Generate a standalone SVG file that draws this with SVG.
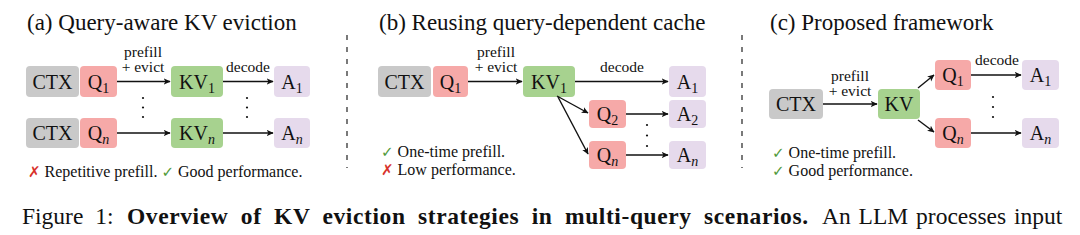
<svg xmlns="http://www.w3.org/2000/svg" width="1080" height="235" viewBox="0 0 1080 235" font-family="'Liberation Serif', 'DejaVu Serif', serif">
<style>
  text { font-family: 'Liberation Serif', 'DejaVu Serif', serif; fill: #111; }
  .title { font-size: 23px; }
  .lbl { font-size: 20px; text-anchor: middle; }
  .sub { font-size: 14px; }
  .it { font-style: italic; }
  .edge { font-size: 15.5px; text-anchor: middle; }
  .note { font-size: 16px; }
  .ok { font-family: 'DejaVu Sans', sans-serif; fill: #4f9a3a; font-size: 15px; }
  .bad { font-family: 'DejaVu Sans', sans-serif; fill: #d8322a; font-size: 15px; }
  .ctx { fill: #c9c9c9; }
  .q { fill: #f6a9a8; }
  .kv { fill: #a7d28f; }
  .a { fill: #e6daec; }
  .conn line { stroke: #111; stroke-width: 1.4; marker-end: url(#ah); }
  .sep { stroke: #222; stroke-width: 1.2; stroke-dasharray: 5 7; }
  .dot { fill: #111; }
  .cap { font-size: 23.5px; }
  .capb { font-size: 23.5px; font-weight: bold; }
</style>
<defs>
  <marker id="ah" viewBox="0 0 10 10" refX="9" refY="5" markerWidth="7" markerHeight="7" markerUnits="userSpaceOnUse" orient="auto">
    <path d="M0,0.5 L10,5 L0,9.5 L2.5,5 Z" fill="#111"/>
  </marker>
</defs>

<!-- Titles -->
<text class="title" x="27" y="30">(a) Query-aware KV eviction</text>
<text class="title" x="379" y="30">(b) Reusing query-dependent cache</text>
<text class="title" x="770" y="30">(c) Proposed framework</text>

<!-- separators -->
<line class="sep" x1="347" y1="35" x2="347" y2="168"/>
<line class="sep" x1="742" y1="35" x2="742" y2="168"/>

<!-- Panel (a) -->
<g id="a-ctx1"><rect class="ctx" x="26" y="66" width="53" height="31" rx="4"/><text class="lbl" x="52.5" y="89">CTX</text></g>
<g id="a-q1"><rect class="q" x="80" y="66" width="37" height="31" rx="4"/><text class="lbl" x="98.5" y="89">Q<tspan class="sub" dy="4">1</tspan></text></g>
<g id="a-kv1"><rect class="kv" x="171" y="66" width="52" height="31" rx="4"/><text class="lbl" x="197" y="89">KV<tspan class="sub" dy="4">1</tspan></text></g>
<g id="a-a1"><rect class="a" x="274" y="66" width="36" height="31" rx="4"/><text class="lbl" x="292" y="89">A<tspan class="sub" dy="4">1</tspan></text></g>
<g id="a-ctxn"><rect class="ctx" x="26" y="118" width="53" height="30" rx="4"/><text class="lbl" x="52.5" y="140">CTX</text></g>
<g id="a-qn"><rect class="q" x="80" y="118" width="37" height="30" rx="4"/><text class="lbl" x="98.5" y="140">Q<tspan class="sub it" dy="4">n</tspan></text></g>
<g id="a-kvn"><rect class="kv" x="171" y="118" width="52" height="30" rx="4"/><text class="lbl" x="197" y="140">KV<tspan class="sub it" dy="4">n</tspan></text></g>
<g id="a-an"><rect class="a" x="274" y="118" width="36" height="30" rx="4"/><text class="lbl" x="292" y="140">A<tspan class="sub it" dy="4">n</tspan></text></g>
<text class="edge" x="143" y="57">prefill</text>
<text class="edge" x="143" y="72">+ evict</text>
<text class="edge" x="248" y="72">decode</text>
<circle class="dot" cx="143" cy="98" r="1.1"/><circle class="dot" cx="143" cy="107.5" r="1.1"/><circle class="dot" cx="143" cy="117" r="1.1"/>
<circle class="dot" cx="247" cy="98" r="1.1"/><circle class="dot" cx="247" cy="107.5" r="1.1"/><circle class="dot" cx="247" cy="117" r="1.1"/>
<text class="note" x="28" y="177"><tspan class="bad">✗</tspan> Repetitive prefill. <tspan class="ok">✓</tspan> Good performance.</text>

<!-- Panel (b) -->
<g id="b-ctx"><rect class="ctx" x="378" y="66" width="53" height="31" rx="4"/><text class="lbl" x="404.5" y="89">CTX</text></g>
<g id="b-q1"><rect class="q" x="433" y="66" width="35" height="31" rx="4"/><text class="lbl" x="450.5" y="89">Q<tspan class="sub" dy="4">1</tspan></text></g>
<g id="b-kv1"><rect class="kv" x="523" y="66" width="52" height="31" rx="4"/><text class="lbl" x="549" y="89">KV<tspan class="sub" dy="4">1</tspan></text></g>
<g id="b-a1"><rect class="a" x="669" y="66" width="37" height="31" rx="4"/><text class="lbl" x="687.5" y="89">A<tspan class="sub" dy="4">1</tspan></text></g>
<g id="b-q2"><rect class="q" x="589" y="100" width="37" height="28" rx="4"/><text class="lbl" x="607.5" y="121">Q<tspan class="sub" dy="4">2</tspan></text></g>
<g id="b-a2"><rect class="a" x="669" y="100" width="37" height="28" rx="4"/><text class="lbl" x="687.5" y="121">A<tspan class="sub" dy="4">2</tspan></text></g>
<g id="b-qn"><rect class="q" x="589" y="141" width="37" height="28" rx="4"/><text class="lbl" x="607.5" y="162">Q<tspan class="sub it" dy="4">n</tspan></text></g>
<g id="b-an"><rect class="a" x="669" y="141" width="37" height="28" rx="4"/><text class="lbl" x="687.5" y="162">A<tspan class="sub it" dy="4">n</tspan></text></g>
<text class="edge" x="496" y="57">prefill</text>
<text class="edge" x="496" y="72">+ evict</text>
<text class="edge" x="622" y="72">decode</text>
<circle class="dot" cx="647" cy="125" r="1.1"/><circle class="dot" cx="647" cy="135.5" r="1.1"/><circle class="dot" cx="647" cy="146" r="1.1"/>
<text class="note" x="381" y="157"><tspan class="ok">✓</tspan> One-time prefill.</text>
<text class="note" x="381" y="175"><tspan class="bad">✗</tspan> Low performance.</text>

<!-- Panel (c) -->
<g id="c-ctx"><rect class="ctx" x="769" y="89" width="54" height="30" rx="4"/><text class="lbl" x="796" y="111">CTX</text></g>
<g id="c-kv"><rect class="kv" x="878" y="89" width="42" height="30" rx="4"/><text class="lbl" x="899" y="111">KV</text></g>
<g id="c-q1"><rect class="q" x="935" y="60" width="36" height="30" rx="4"/><text class="lbl" x="953" y="82">Q<tspan class="sub" dy="4">1</tspan></text></g>
<g id="c-qn"><rect class="q" x="935" y="118" width="36" height="30" rx="4"/><text class="lbl" x="953" y="140">Q<tspan class="sub it" dy="4">n</tspan></text></g>
<g id="c-a1"><rect class="a" x="1022" y="60" width="37" height="30" rx="4"/><text class="lbl" x="1040.5" y="82">A<tspan class="sub" dy="4">1</tspan></text></g>
<g id="c-an"><rect class="a" x="1022" y="118" width="37" height="30" rx="4"/><text class="lbl" x="1040.5" y="140">A<tspan class="sub it" dy="4">n</tspan></text></g>
<text class="edge" x="850" y="81">prefill</text>
<text class="edge" x="850" y="96">+ evict</text>
<text class="edge" x="997" y="65">decode</text>
<circle class="dot" cx="993" cy="97" r="1.1"/><circle class="dot" cx="993" cy="107" r="1.1"/><circle class="dot" cx="993" cy="117" r="1.1"/>
<text class="note" x="772" y="158"><tspan class="ok">✓</tspan> One-time prefill.</text>
<text class="note" x="772" y="176"><tspan class="ok">✓</tspan> Good performance.</text>

<!-- Connectors -->
<g id="connectors" class="conn">
  <line x1="117" y1="81.5" x2="170" y2="81.5"/>
  <line x1="223" y1="81.5" x2="273" y2="81.5"/>
  <line x1="117" y1="133" x2="170" y2="133"/>
  <line x1="223" y1="133" x2="273" y2="133"/>
  <line x1="468" y1="81.5" x2="522" y2="81.5"/>
  <line x1="575" y1="81.5" x2="668" y2="81.5"/>
  <line x1="557" y1="96" x2="588" y2="113"/>
  <line x1="558" y1="97" x2="588" y2="154"/>
  <line x1="626" y1="114" x2="668" y2="114"/>
  <line x1="626" y1="155" x2="668" y2="155"/>
  <line x1="823" y1="104" x2="877" y2="104"/>
  <line x1="918" y1="88" x2="934" y2="75"/>
  <line x1="918" y1="120" x2="934" y2="132"/>
  <line x1="971" y1="75" x2="1021" y2="75"/>
  <line x1="971" y1="133" x2="1021" y2="133"/>
</g>

<!-- Caption -->
<text class="cap" x="22" y="224" word-spacing="6">Figure 1:</text>
<text class="capb" x="127" y="224" word-spacing="6" textLength="681" lengthAdjust="spacing">Overview of KV eviction strategies in multi-query scenarios.</text>
<text class="cap" x="822" y="224" word-spacing="2">An LLM processes input</text>
</svg>
